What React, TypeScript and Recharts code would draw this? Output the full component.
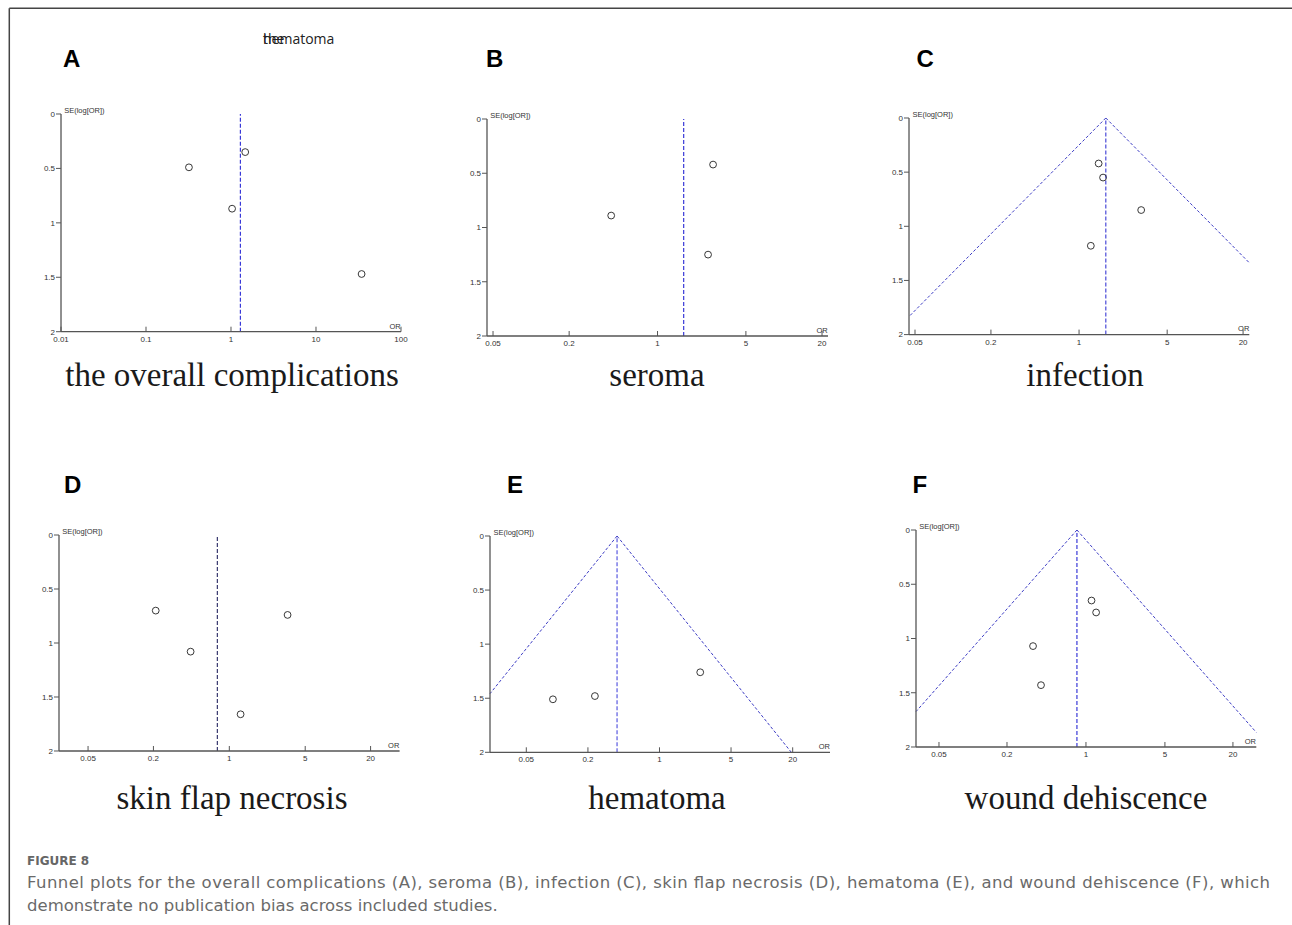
import React from "react";
import { ScatterChart, Scatter, XAxis, YAxis, ReferenceLine } from "recharts";

// odds ratio and SE(log[OR]) of each study
const orA = [0.32, 1.47, 1.03, 34.4];
const seA = [0.49, 0.35, 0.87, 1.47];
const orB = [0.43, 2.75, 2.51];
const seB = [0.89, 0.42, 1.25];
const orC = [1.43, 1.55, 3.11, 1.24];
const seC = [0.42, 0.55, 0.85, 1.18];
const orD = [0.21, 0.44, 3.44, 1.27];
const seD = [0.7, 1.08, 0.74, 1.66];
const orE = [0.091, 0.234, 2.5];
const seE = [1.51, 1.48, 1.26];
const orF = [1.12, 1.23, 0.34, 0.4];
const seF = [0.65, 0.76, 1.07, 1.43];

// pooled OR (vertical dashed line) and whether the pseudo 95% CI funnel is drawn
const pooledOR = [1.29, 1.61, 1.63, 0.776, 0.385, 0.832];
const hasFunnel = [false, false, true, false, true, true];

const orTicksA = [0.01, 0.1, 1, 10, 100];
const orTicks = [0.05, 0.2, 1, 5, 20];
const seTicks = [0, 0.5, 1, 1.5, 2];
const orDomains = [
  [0.01, 100],
  [0.0448, 22.3],
  [0.0448, 22.4],
  [0.027, 37],
  [0.0221, 46.3],
  [0.0313, 32.2],
];

const letters = ["A", "B", "C", "D", "E", "F"];
const titles = [
  "the overall complications",
  "seroma",
  "infection",
  "skin flap necrosis",
  "hematoma",
  "wound dehiscence",
];

const orSets = [orA, orB, orC, orD, orE, orF];
const seSets = [seA, seB, seC, seD, seE, seF];

// plot boxes (pixel layout on the page)
const boxes = [
  { l: 60.7, t: 114, r: 400.7, b: 331.7 },
  { l: 486.7, t: 119, r: 827.7, b: 336 },
  { l: 909, t: 117.7, r: 1249.3, b: 334.3 },
  { l: 58.7, t: 535, r: 399.3, b: 751 },
  { l: 490, t: 536, r: 830, b: 752.3 },
  { l: 915.7, t: 529.7, r: 1256, b: 746.7 },
];
const letterPos = [
  [63, 67], [486, 67], [916.5, 67],
  [64, 493], [507, 493], [912.5, 493],
];
const titlePos = [
  [232, 386], [657, 386], [1085, 386],
  [232, 809], [657, 809], [1086, 809],
];
const lineColors = ["#3a3ad8", "#3a3ad8", "#4a4ad8", "#38386e", "#5a5ae0", "#3a3ad8"];

const SANS = "'Liberation Sans', Arial, sans-serif";
const SERIF = "'Liberation Serif', 'Times New Roman', serif";
const CAP = "'DejaVu Sans', 'Open Sans', sans-serif";
const AXIS = "#555";

const Ring = (p: any) => (
  <circle cx={p.cx} cy={p.cy} r={3.4} fill="none" stroke="#222" strokeWidth={0.9} />
);

const XTick = (p: any) => {
  const { x, y, payload } = p;
  return (
    <g>
      <line x1={x} x2={x} y1={y} y2={y - 5} stroke={AXIS} />
      <text x={x} y={y + 10} textAnchor="middle" fontSize={8} fill="#333" fontFamily={SANS}>
        {String(payload.value)}
      </text>
    </g>
  );
};

// end of a funnel side (OR = pooled * exp(+-1.96 SE)), cut at the axis edge
function funnelEnd(c: number, lo: number, hi: number, side: number) {
  const k = 1.96;
  const atBottom = c * Math.exp(side * k * 2);
  if (side < 0 && atBottom < lo) return { x: lo, y: Math.log(c / lo) / k };
  if (side > 0 && atBottom > hi) return { x: hi, y: Math.log(hi / c) / k };
  return { x: atBottom, y: 2 };
}

const Panel = ({ i }: { i: number }) => {
  const box = boxes[i];
  const w = box.r - box.l;
  const h = box.b - box.t;
  const dom = orDomains[i];
  const data = orSets[i].map((or, j) => ({ or, se: seSets[i][j] }));
  const c = pooledOR[i];
  return (
    <div style={{ position: "absolute", left: box.l - 40, top: box.t - 15 }}>
      <ScatterChart
        width={w + 70}
        height={h + 40}
        margin={{ top: 15, right: 30, bottom: 0, left: 0 }}
      >
        <XAxis
          type="number"
          dataKey="or"
          scale="log"
          domain={dom}
          allowDataOverflow
          ticks={i === 0 ? orTicksA : orTicks}
          interval={0}
          tick={XTick}
          tickLine={false}
          tickSize={0}
          tickMargin={0}
          height={25}
          axisLine={{ stroke: AXIS, strokeWidth: 1.3 }}
        />
        <YAxis
          type="number"
          dataKey="se"
          domain={[0, 2]}
          reversed
          ticks={seTicks}
          interval={0}
          width={40}
          tickSize={5}
          tickMargin={1}
          tick={{ fontSize: 8, fill: "#333", fontFamily: SANS }}
          tickLine={{ stroke: AXIS }}
          axisLine={{ stroke: AXIS, strokeWidth: 1.3 }}
        />
        <ReferenceLine
          x={c}
          stroke={lineColors[i]}
          strokeWidth={1.2}
          strokeDasharray="4 2"
          ifOverflow="visible"
        />
        {hasFunnel[i] && (
          <ReferenceLine
            segment={[{ x: c, y: 0 }, funnelEnd(c, dom[0], dom[1], -1)]}
            stroke="#3c3cc4"
            strokeWidth={1}
            strokeDasharray="3 2"
            ifOverflow="visible"
          />
        )}
        {hasFunnel[i] && (
          <ReferenceLine
            segment={[{ x: c, y: 0 }, funnelEnd(c, dom[0], dom[1], 1)]}
            stroke="#3c3cc4"
            strokeWidth={1}
            strokeDasharray="3 2"
            ifOverflow="visible"
          />
        )}
        <Scatter data={data} shape={Ring} isAnimationActive={false} />
      </ScatterChart>
    </div>
  );
};

export default function App() {
  return (
    <div
      style={{
        position: "absolute",
        left: 0,
        top: 0,
        width: 1292,
        height: 925,
        background: "#fff",
        overflow: "hidden",
      }}
    >
      {letters.map((_, i) => (
        <Panel key={i} i={i} />
      ))}
      <svg
        width={1292}
        height={925}
        style={{ position: "absolute", left: 0, top: 0, pointerEvents: "none" }}
      >
        <line x1={9.3} y1={8.3} x2={1292} y2={8.3} stroke="#444" strokeWidth={1.5} />
        <line x1={9.3} y1={8.3} x2={9.3} y2={925} stroke="#444" strokeWidth={1.5} />

        {/* stray overlapping header from the source figure */}
        <text x={263} y={44} fontSize={14} fill="#222" fontFamily="'Open Sans', sans-serif">the</text>
        <text x={263} y={44} fontSize={14} fill="#222" fontFamily="'Open Sans', sans-serif">hematoma</text>

        {letters.map((s, i) => (
          <text
            key={"l" + s}
            x={letterPos[i][0]}
            y={letterPos[i][1]}
            fontSize={24}
            fontWeight="bold"
            fill="#000"
            fontFamily={SANS}
          >
            {s}
          </text>
        ))}

        {boxes.map((b, i) => (
          <g key={"ax" + i}>
            <text x={b.l + 3.5} y={b.t - 1} fontSize={7.5} fill="#333" fontFamily={SANS}>
              SE(log[OR])
            </text>
            <text x={b.r} y={b.b - 3} fontSize={7.5} fill="#333" fontFamily={SANS} textAnchor="end">
              OR
            </text>
          </g>
        ))}

        {titles.map((t, i) => (
          <text
            key={"t" + i}
            x={titlePos[i][0]}
            y={titlePos[i][1]}
            fontSize={33}
            fill="#1a1a1a"
            fontFamily={SERIF}
            textAnchor="middle"
          >
            {t}
          </text>
        ))}

        <text x={27} y={865} fontSize={12} fontWeight="bold" fill="#666" fontFamily={CAP}>
          FIGURE 8
        </text>
        <text
          x={27}
          y={888}
          fontSize={16.5}
          fill="#6a6a6a"
          fontFamily={CAP}
          textLength={1243}
          lengthAdjust="spacing"
        >
          Funnel plots for the overall complications (A), seroma (B), infection (C), skin flap necrosis (D), hematoma (E), and wound dehiscence (F), which
        </text>
        <text x={27} y={911} fontSize={16.5} fill="#6a6a6a" fontFamily={CAP}>
          demonstrate no publication bias across included studies.
        </text>
      </svg>
    </div>
  );
}
